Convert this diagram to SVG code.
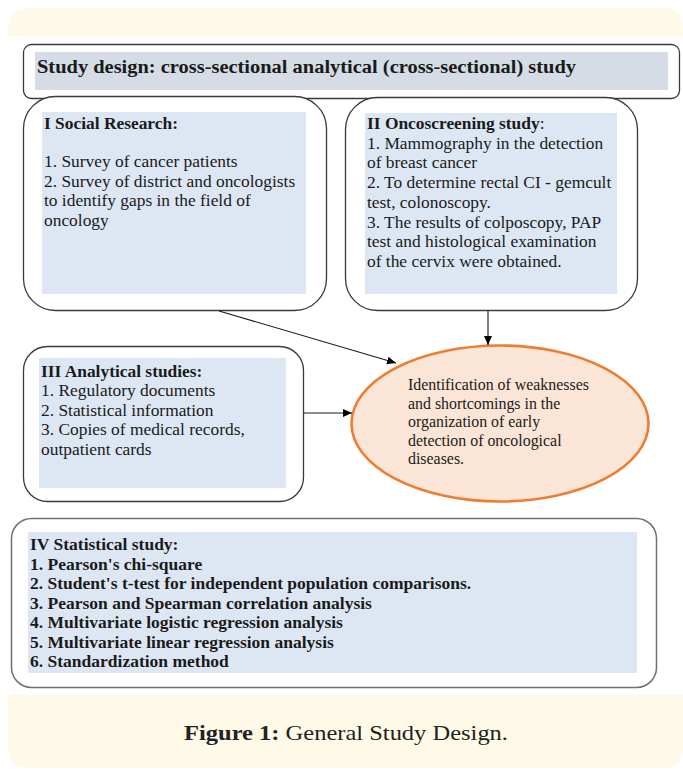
<svg xmlns="http://www.w3.org/2000/svg" width="683" height="777" viewBox="0 0 683 777">
<style>
.box{fill:#ffffff;stroke:#3a3a3a;stroke-width:1.3}
.inner{fill:#dde7f3}
.t{font-family:"Liberation Serif","Times New Roman",serif;font-size:17.4px;fill:#1a1a1a}
.e{font-family:"Liberation Serif","Times New Roman",serif;font-size:15.9px;fill:#1a1a1a}
.b{font-weight:bold}
.s4{font-family:"Liberation Serif","Times New Roman",serif;font-size:17.5px;font-weight:bold;fill:#1a1a1a}
.conn{stroke:#1a1a1a;stroke-width:1.1;fill:none}
</style>
<defs>
<marker id="ah" markerWidth="10" markerHeight="10" refX="9" refY="5" orient="auto" markerUnits="userSpaceOnUse">
<path d="M0,1 L9,5 L0,9 z" fill="#000"/>
</marker>
</defs>
<rect width="683" height="777" fill="#ffffff"/>
<path d="M8,36 L8,28 Q8,8 28,8 L663,8 Q683,8 683,28 L683,36 z" fill="#fffae8"/>
<path d="M8,695 L683,695 L683,748 Q683,768 663,768 L28,768 Q8,768 8,748 z" fill="#fffae8"/>

<g id="title">
<rect class="box" x="23.5" y="44.5" width="656" height="54" rx="8"/>
<rect x="35" y="52" width="633" height="38" fill="#d6dce5"/>
<text x="37" y="73" font-family="Liberation Serif,Times New Roman,serif" font-size="18.5px" font-weight="bold" fill="#1a1a1a" textLength="539" lengthAdjust="spacingAndGlyphs">Study design: cross-sectional analytical (cross-sectional) study</text>
</g>

<g id="n1">
<rect class="box" x="23.5" y="96.5" width="303" height="214" rx="32"/>
<rect class="inner" x="42" y="112" width="264" height="182"/>
<text class="t b" x="44" y="129">I Social Research:</text>
<text class="t" x="44" y="167">1. Survey of cancer patients</text>
<text class="t" x="44" y="186.7">2. Survey of district and oncologists</text>
<text class="t" x="44" y="206.4">to identify gaps in the field of</text>
<text class="t" x="44" y="226">oncology</text>
</g>

<g id="n2">
<rect class="box" x="345.5" y="97.5" width="292" height="213" rx="32"/>
<rect class="inner" x="365" y="113" width="252" height="181"/>
<text class="t" x="367" y="129"><tspan class="b">II Oncoscreening study</tspan>:</text>
<text class="t" x="367" y="148.7">1. Mammography in the detection</text>
<text class="t" x="367" y="168.4">of breast cancer</text>
<text class="t" x="367" y="188">2. To determine rectal CI - gemcult</text>
<text class="t" x="367" y="207.8">test, colonoscopy.</text>
<text class="t" x="367" y="227.5">3. The results of colposcopy, PAP</text>
<text class="t" x="367" y="247.2">test and histological examination</text>
<text class="t" x="367" y="267">of the cervix were obtained.</text>
</g>

<g id="n3">
<rect class="box" x="23.5" y="346.5" width="280" height="155" rx="24"/>
<rect class="inner" x="39" y="358" width="247" height="130"/>
<text class="t b" x="41" y="377">III Analytical studies:</text>
<text class="t" x="41" y="396">1. Regulatory documents</text>
<text class="t" x="41" y="415.5">2. Statistical information</text>
<text class="t" x="41" y="435">3. Copies of medical records,</text>
<text class="t" x="41" y="454.5">outpatient cards</text>
</g>

<g id="n4">
<ellipse cx="500" cy="423.5" rx="148.5" ry="78" fill="#fbe5d6" stroke="#ed7d31" stroke-width="2.6"/>
<text class="e" x="408" y="390">Identification of weaknesses</text>
<text class="e" x="408" y="408.5">and shortcomings in the</text>
<text class="e" x="408" y="427">organization of early</text>
<text class="e" x="408" y="445.5">detection of oncological</text>
<text class="e" x="408" y="464">diseases.</text>
</g>

<g id="n5">
<rect x="11.5" y="518.5" width="645" height="169" rx="20" fill="#ffffff" stroke="#707070" stroke-width="1.5"/>
<rect class="inner" x="28" y="532" width="609" height="141"/>
<text class="s4" x="30" y="550">IV Statistical study:</text>
<text class="s4" x="30" y="569.5">1. Pearson's chi-square</text>
<text class="s4" x="30" y="589">2. Student's t-test for independent population comparisons.</text>
<text class="s4" x="30" y="608.5">3. Pearson and Spearman correlation analysis</text>
<text class="s4" x="30" y="628">4. Multivariate logistic regression analysis</text>
<text class="s4" x="30" y="647.5">5. Multivariate linear regression analysis</text>
<text class="s4" x="30" y="667">6. Standardization method</text>
</g>

<g id="connectors">
<line class="conn" x1="219" y1="311" x2="396" y2="363" marker-end="url(#ah)"/>
<line class="conn" x1="488" y1="311" x2="488" y2="345" marker-end="url(#ah)"/>
<line class="conn" x1="304" y1="413" x2="352" y2="413" marker-end="url(#ah)"/>
</g>

<text x="346" y="740" text-anchor="middle" font-family="Liberation Serif,Times New Roman,serif" font-size="22px" fill="#222" textLength="324" lengthAdjust="spacingAndGlyphs"><tspan font-weight="bold">Figure 1:</tspan> General Study Design.</text>
</svg>
